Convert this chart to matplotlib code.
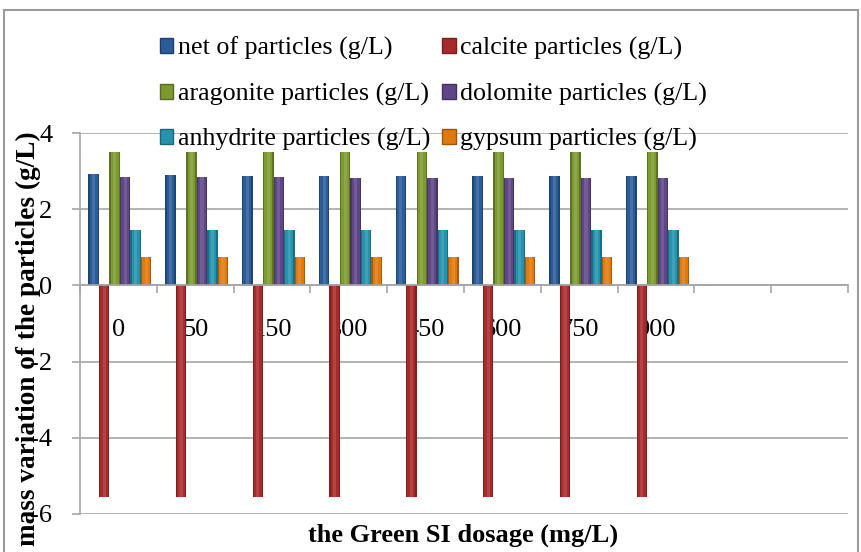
import matplotlib
matplotlib.use("Agg")
import matplotlib.pyplot as plt
import numpy as np
from matplotlib.patches import Patch, Rectangle
import matplotlib.colors as mcolors

plt.rcParams['font.family'] = ['Liberation Serif', 'DejaVu Serif']

categories = ['0', '50', '150', '300', '450', '600', '750', '900', '', '']
net = [2.92, 2.90, 2.88, 2.88, 2.88, 2.88, 2.88, 2.88]
calcite = [-5.55, -5.55, -5.55, -5.55, -5.56, -5.56, -5.56, -5.56]
aragonite = [3.50, 3.50, 3.50, 3.50, 3.50, 3.50, 3.50, 3.50]
dolomite = [2.85, 2.84, 2.84, 2.83, 2.83, 2.83, 2.83, 2.83]
anhydrite = [1.45, 1.45, 1.45, 1.45, 1.45, 1.45, 1.45, 1.45]
gypsum = [0.74, 0.74, 0.74, 0.74, 0.74, 0.74, 0.74, 0.74]

series = [
    ("net of particles (g/L)", net, "#2a5c99"),
    ("calcite particles (g/L)", calcite, "#a82b2b"),
    ("aragonite particles (g/L)", aragonite, "#7c9a30"),
    ("dolomite particles (g/L)", dolomite, "#5f4687"),
    ("anhydrite particles (g/L)", anhydrite, "#2593ad"),
    ("gypsum particles (g/L)", gypsum, "#e0790f"),
]

W, H = 862, 552
fig = plt.figure(figsize=(W / 100, H / 100), dpi=100)
ax = fig.add_axes([80 / W, 1 - 514 / H, (848 - 80) / W, (514 - 133) / H])

n = len(series)
group = 0.82
bw = group / n
x = np.arange(len(net))


def shade(c, f):
    r, g, b = mcolors.to_rgb(c)
    if f >= 0:
        return (r + (1 - r) * f, g + (1 - g) * f, b + (1 - b) * f)
    return (r * (1 + f), g * (1 + f), b * (1 + f))


for k, (name, vals, col) in enumerate(series):
    xs = x - group / 2 + bw * (k + 0.5) + 0.02
    ax.bar(xs, vals, width=bw, color=shade(col, -0.25), edgecolor='none', zorder=3)
    ax.bar(xs, vals, width=bw * 0.75, color=col, edgecolor='none', zorder=3)
    ax.bar(xs, vals, width=bw * 0.3, color=shade(col, 0.12), edgecolor='none', zorder=3)

ax.set_xlim(-0.5, len(categories) - 0.5)
ax.set_ylim(-6, 4)
ax.set_yticks([-6, -4, -2, 0, 2, 4])
ax.set_yticklabels(['-6', '-4', '-2', '0', '2', '4'])
ax.grid(axis='y', color='#a6a6a6', linewidth=1.2, zorder=0)
ax.set_axisbelow(True)

for s in ['top', 'right']:
    ax.spines[s].set_visible(False)
ax.spines['left'].set_color('#a6a6a6')
ax.spines['left'].set_linewidth(1.2)
ax.spines['bottom'].set_position(('data', 0))
ax.spines['bottom'].set_color('#a6a6a6')
ax.spines['bottom'].set_linewidth(1.2)
ax.spines['bottom'].set_zorder(4)

ax.set_xticks(np.arange(len(categories)))
ax.set_xticklabels(categories)
ax.set_xticks(np.arange(len(categories) + 1) - 0.5, minor=True)
ax.tick_params(axis='x', which='major', length=0, pad=24, labelsize=19)
ax.tick_params(axis='x', which='minor', length=6, width=1.2, color='#a6a6a6', direction='out')
ax.tick_params(axis='y', length=6, width=1.2, color='#a6a6a6', pad=14, labelsize=19)

fig.text(463 / W, 1 - 535 / H, "the Green SI dosage (mg/L)", ha='center', va='center',
         fontsize=19, fontweight='bold')
fig.text(28 / W, 1 - 339 / H, "mass variation of the particles (g/L)", ha='center', va='center',
         rotation=90, fontsize=19.6, fontweight='bold')

# legend filled row by row, two columns (matplotlib fills column-major)
order = [0, 2, 4, 1, 3, 5]
handles = [Patch(facecolor=series[i][2], edgecolor=shade(series[i][2], -0.3)) for i in order]
labels = [series[i][0] for i in order]
fig.legend(handles, labels, ncol=2, frameon=False, fontsize=18.7,
           loc='upper left', bbox_to_anchor=(147 / W, 1 - 24 / H),
           handlelength=0.52, handleheight=0.52, handletextpad=0.18,
           columnspacing=0.45, labelspacing=0.86, borderpad=0)

fig.patches.append(Rectangle((4 / W, -0.05), (858 - 4) / W, 1.05 - 10 / H,
                             transform=fig.transFigure, fill=False,
                             edgecolor='#9a9a9a', linewidth=1.5))

fig.savefig("out.png", dpi=100)
